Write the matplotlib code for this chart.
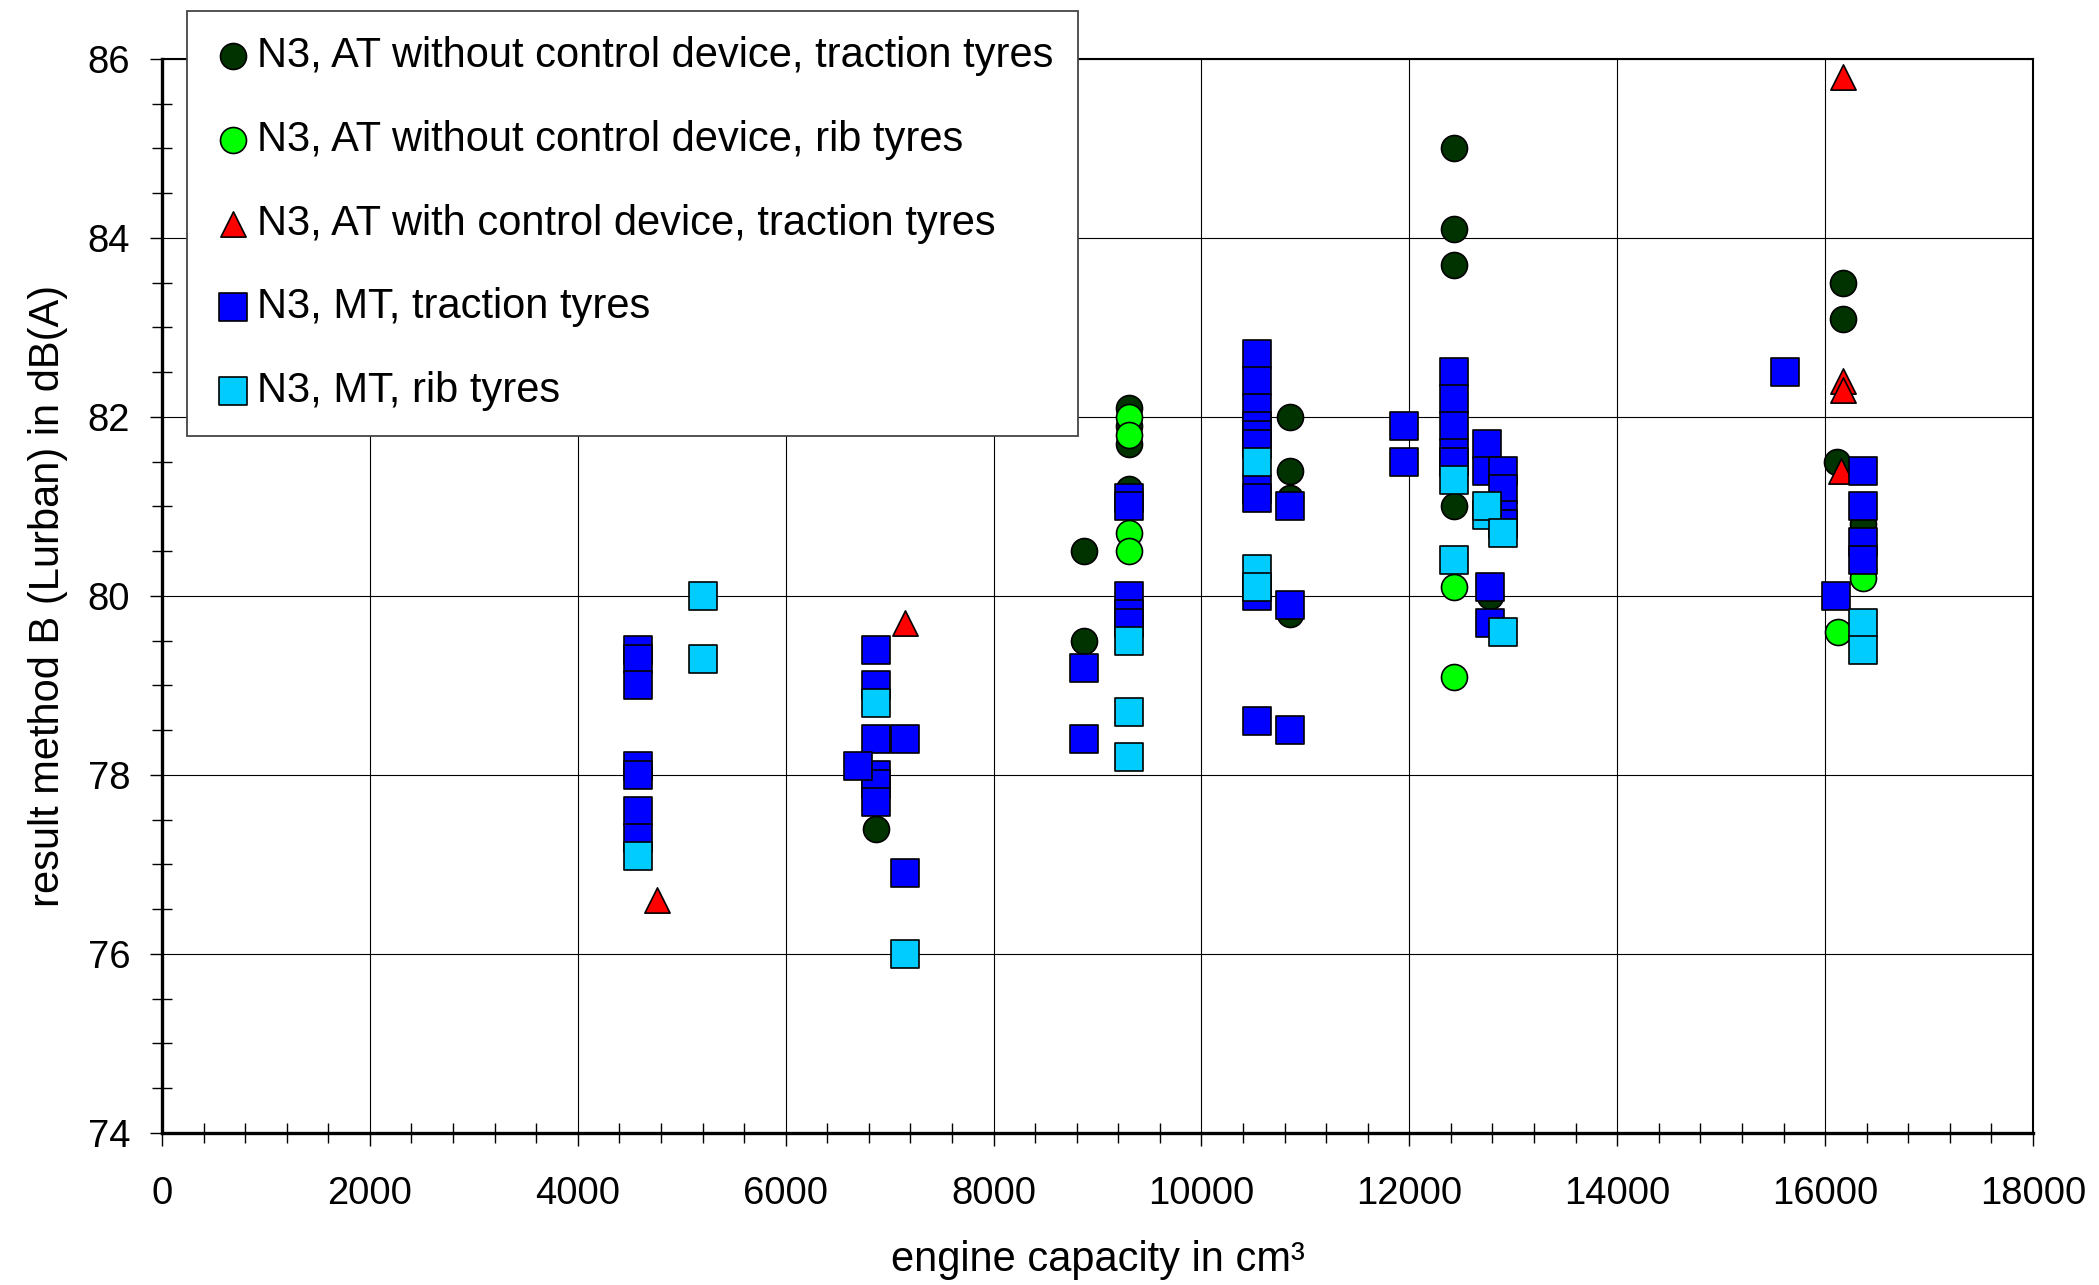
import matplotlib
matplotlib.use("Agg")
import matplotlib.pyplot as plt
from matplotlib.ticker import MultipleLocator

plt.rcParams['font.family'] = ['Liberation Sans', 'DejaVu Sans']

# N3, AT without control device, traction tyres
at_trac_x = [6870, 8870, 8870, 9300, 9300, 9300, 9300,
             10850, 10850, 10850, 10850,
             12430, 12430, 12430, 12430, 12430, 12430, 12430,
             12780, 16170, 16170, 16110, 16360]
at_trac_y = [77.4, 80.5, 79.5, 82.1, 81.9, 81.7, 81.2,
             82.0, 81.4, 81.1, 79.8,
             85.0, 84.1, 83.7, 81.8, 81.5, 81.3, 81.0,
             80.0, 83.5, 83.1, 81.5, 80.8]

# N3, AT without control device, rib tyres
at_rib_x = [9300, 9300, 9300, 9300, 12430, 12430, 16360, 16360, 16120]
at_rib_y = [82.0, 81.8, 80.7, 80.5, 80.1, 79.1, 80.3, 80.2, 79.6]

# N3, AT with control device, traction tyres
atc_trac_x = [4760, 7150, 16170, 16170, 16170, 16150]
atc_trac_y = [76.6, 79.7, 85.8, 82.4, 82.3, 81.4]

# N3, MT, traction tyres
mt_trac_x = [4580, 4580, 4580, 4580, 4580, 4580, 4580,
             6870, 6870, 6870, 6870, 6870, 6870, 6700,
             7150, 7150, 8870, 8870,
             9300, 9300, 9300, 9300, 9300,
             10530, 10530, 10530, 10530, 10530, 10530, 10530, 10530, 10530, 10530,
             10850, 10850, 10850, 11950, 11950,
             12430, 12430, 12430, 12430, 12430,
             12750, 12750, 12900, 12900, 12900, 12900,
             12780, 12780, 15610, 16100,
             16360, 16360, 16360, 16360]
mt_trac_y = [79.4, 79.3, 79.0, 78.1, 78.0, 77.6, 77.3,
             79.4, 79.0, 78.4, 78.0, 77.9, 77.7, 78.1,
             78.4, 76.9, 79.2, 78.4,
             81.1, 81.0, 80.0, 79.8, 79.7,
             82.7, 82.4, 82.1, 81.9, 81.8, 81.7, 81.2, 81.1, 80.0, 78.6,
             81.0, 79.9, 78.5, 81.9, 81.5,
             82.5, 82.2, 81.9, 81.6, 81.5,
             81.7, 81.4, 81.4, 81.2, 80.9, 80.8,
             80.1, 79.7, 82.5, 80.0,
             81.4, 81.0, 80.6, 80.4]

# N3, MT, rib tyres
mt_rib_x = [4580, 5200, 5200, 6870, 7150, 9300, 9300, 9300,
            10530, 10530, 10530, 12430, 12430, 12750, 12750,
            12900, 12900, 16360, 16360]
mt_rib_y = [77.1, 80.0, 79.3, 78.8, 76.0, 79.5, 78.7, 78.2,
            81.5, 80.3, 80.1, 81.3, 80.4, 80.9, 81.0,
            80.7, 79.6, 79.7, 79.4]

series = [
    (at_trac_x, at_trac_y, 'o', '#003300', 'N3, AT without control device, traction tyres'),
    (at_rib_x, at_rib_y, 'o', '#00ff00', 'N3, AT without control device, rib tyres'),
    (atc_trac_x, atc_trac_y, '^', '#ff0000', 'N3, AT with control device, traction tyres'),
    (mt_trac_x, mt_trac_y, 's', '#0000ff', 'N3, MT, traction tyres'),
    (mt_rib_x, mt_rib_y, 's', '#00ccff', 'N3, MT, rib tyres'),
]
sizes = {'o': 350, '^': 330, 's': 380}

fig = plt.figure(figsize=(20.99, 12.85), dpi=100)
ax = fig.add_axes([162 / 2099, 1 - 1133 / 1285, (2033 - 162) / 2099, (1133 - 59) / 1285])

for z, (xs, ys, m, c, lab) in enumerate(series):
    ax.scatter(xs, ys, marker=m, s=sizes[m], c=c, edgecolors='black',
               linewidths=1.2, label=lab, zorder=3 + z)

ax.set_xlim(0, 18000)
ax.set_ylim(74, 86)
ax.xaxis.set_major_locator(MultipleLocator(2000))
ax.xaxis.set_minor_locator(MultipleLocator(400))
ax.yaxis.set_major_locator(MultipleLocator(2))
ax.yaxis.set_minor_locator(MultipleLocator(0.5))
ax.grid(True, which='major', color='black', linewidth=0.8)
ax.set_axisbelow(True)

ax.tick_params(which='major', direction='out', length=9, width=1, labelsize=27.5, colors='black')
ax.tick_params(which='minor', direction='inout', length=14, width=1)
ax.tick_params(axis='x', which='major', pad=22)
ax.tick_params(axis='y', which='major', pad=14)

ax.spines['left'].set_linewidth(2.4)
ax.spines['bottom'].set_linewidth(2.4)
ax.spines['top'].set_linewidth(1.5)
ax.spines['right'].set_linewidth(1.5)

ax.set_xlabel('engine capacity in cm³', fontsize=30, labelpad=20)
ax.set_ylabel('result method B (Lurban) in dB(A)', fontsize=30, labelpad=14)

leg = ax.legend(loc='upper left', bbox_to_anchor=(187 / 2099, 1 - 11 / 1285),
                bbox_transform=fig.transFigure, borderaxespad=0, fontsize=30,
                fancybox=False, framealpha=1, edgecolor='#444444',
                handlelength=1.0, handletextpad=0.07, labelspacing=1.05,
                borderpad=0.6, scatterpoints=1, markerscale=1.0)
leg.get_frame().set_linewidth(1.3)
leg.set_zorder(20)

fig.savefig('out.png', dpi=100)
